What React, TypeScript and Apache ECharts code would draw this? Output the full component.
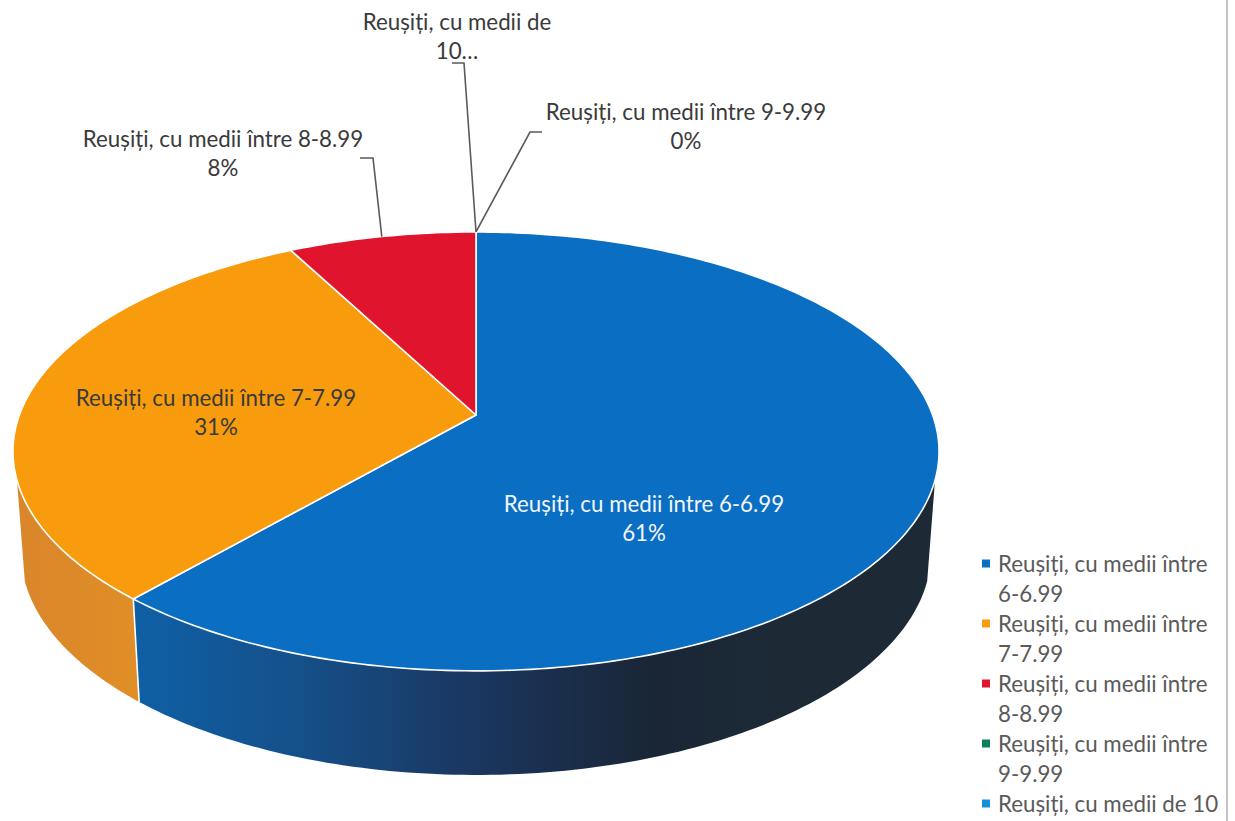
import React, { useEffect, useRef } from "react";
import * as echarts from "echarts";

const categories = [
  "Reușiți, cu medii între 6-6.99",
  "Reușiți, cu medii între 7-7.99",
  "Reușiți, cu medii între 8-8.99",
  "Reușiți, cu medii între 9-9.99",
  "Reușiți, cu medii de 10",
];
const values = [61.4, 30.9, 7.7, 0, 0];
const colors = ["#0a6ec3", "#f89c0e", "#e0142c", "#0f8055", "#1590d8"];
const legendTexts = [
  "Reușiți, cu medii între\n6-6.99",
  "Reușiți, cu medii între\n7-7.99",
  "Reușiți, cu medii între\n8-8.99",
  "Reușiți, cu medii între\n9-9.99",
  "Reușiți, cu medii de 10\n ",
];
const labelTexts = [
  "Reușiți, cu medii între 6-6.99\n61%",
  "Reușiți, cu medii între 7-7.99\n31%",
  "Reușiți, cu medii între 8-8.99\n8%",
  "Reușiți, cu medii între 9-9.99\n0%",
  "Reușiți, cu medii de\n10…",
];
const labelCenters = [[644, 518], [216, 412], [223, 153], [686, 126], [457, 36]];
const labelColors = ["#f2f6fb", "#3a3a3a", "#3a3a3a", "#3a3a3a", "#3a3a3a"];
const leaderElbows: (number[][] | null)[] = [
  null,
  null,
  [[373, 158], [360, 158]],
  [[530, 132], [542, 132]],
  [[464, 63], [452, 63]],
];

// Perspective model of the disc
const CX = 476;
const K = 0.166;
const TOP = { cy: 415, a: 456.6, b: 213.4 };
const BOTTOM = { cy: 515, a: 448.8, b: 216.8 };
const WALL_FROM = 0.297;
const WALL_TO = 0.703;
const FONT = '22.3px Lato, "Open Sans", sans-serif';

const total = values.reduce((s, v) => s + v, 0);
const project = (f: number, d: { cy: number; a: number; b: number }) => {
  const t = f * Math.PI * 2;
  const u = Math.sin(t);
  const v = -Math.cos(t);
  const w = 1 - K * v;
  return [CX + (d.a * u) / w, d.cy + (d.b * v) / w];
};
const arc = (f0: number, f1: number, d: any) => {
  const n = Math.max(2, Math.ceil((f1 - f0) * 360));
  const pts: number[][] = [];
  for (let i = 0; i <= n; i++) pts.push(project(f0 + ((f1 - f0) * i) / n, d));
  return pts;
};

const blueWall = {
  type: "linear", x: 138, y: 0, x2: 780, y2: 0, global: true,
  colorStops: [
    { offset: 0, color: "#0f5fa5" },
    { offset: 0.25, color: "#15508a" },
    { offset: 0.48, color: "#1a3a66" },
    { offset: 0.64, color: "#1a2f4e" },
    { offset: 0.8, color: "#1a2636" },
    { offset: 1, color: "#1d2a36" },
  ],
};
const orangeWall = {
  type: "linear", x: 15, y: 0, x2: 138, y2: 0, global: true,
  colorStops: [
    { offset: 0, color: "#d9862c" },
    { offset: 1, color: "#e08e26" },
  ],
};
const wallFills = [blueWall, orangeWall, null, null, null];

const makeRender = (idx: number) => () => {
  const start = values.slice(0, idx).reduce((s, v) => s + v, 0) / total;
  const end = start + values[idx] / total;
  const children: any[] = [];
  const whiteLine = { stroke: "#ffffff", lineWidth: 1.6, lineJoin: "round" };

  if (values[idx] > 0) {
    children.push({
      type: "polygon",
      z2: 2,
      shape: { points: [[CX, TOP.cy], ...arc(start, end, TOP)] },
      style: { fill: colors[idx], ...whiteLine },
    });
  }
  const wf = Math.max(start, WALL_FROM);
  const wt = Math.min(end, WALL_TO);
  if (wallFills[idx] && wt > wf) {
    children.push({
      type: "polygon",
      z2: 1,
      shape: { points: [...arc(wf, wt, TOP), ...arc(wf, wt, BOTTOM).reverse()] },
      style: { fill: wallFills[idx] },
    });
    const a = project(wt, TOP);
    const b = project(wt, BOTTOM);
    if (wt < WALL_TO) {
      children.push({
        type: "line",
        z2: 3,
        shape: { x1: a[0], y1: a[1], x2: b[0], y2: b[1] },
        style: { stroke: "#ffffff", lineWidth: 1.6 },
      });
    }
  }
  const elbows = leaderElbows[idx];
  if (elbows) {
    const anchor = project((start + end) / 2, TOP);
    children.push({
      type: "polyline",
      z2: 4,
      shape: { points: [anchor, ...elbows] },
      style: { stroke: "#5a5a5a", lineWidth: 1.6, fill: "none" },
    });
  }
  children.push({
    type: "text",
    z2: 5,
    style: {
      text: labelTexts[idx],
      x: labelCenters[idx][0],
      y: labelCenters[idx][1],
      fill: labelColors[idx],
      font: FONT,
      align: "center",
      verticalAlign: "middle",
      lineHeight: 29,
    },
  });
  return { type: "group", children };
};

const squareIcon = "path://M0 0H8V8H0ZM11 37L11 37";

export default function App() {
  const ref = useRef<HTMLDivElement>(null);
  useEffect(() => {
    const chart = echarts.init(ref.current!, undefined, { renderer: "svg" });
    chart.setOption({
      animation: false,
      backgroundColor: "#ffffff",
      color: colors,
      legend: {
        show: true,
        orient: "vertical",
        left: 982,
        top: 548,
        height: 320,
        padding: 0,
        itemGap: 0,
        itemWidth: 11,
        itemHeight: 37,
        icon: squareIcon,
        selectedMode: false,
        align: "left",
        data: categories,
        formatter: (n: string) => legendTexts[categories.indexOf(n)],
        textStyle: {
          color: "#5a5a5a",
          fontFamily: 'Lato, "Open Sans", sans-serif',
          fontSize: 22.3,
          lineHeight: 30,
        },
      },
      graphic: [
        {
          type: "line",
          shape: { x1: 1227, y1: 0, x2: 1227, y2: 821 },
          style: { stroke: "#b0b0b0", lineWidth: 1.5 },
        },
      ],
      series: categories.map((name, i) => ({
        type: "custom",
        name,
        coordinateSystem: "none",
        silent: true,
        itemStyle: { color: colors[i] },
        data: [[values[i]]],
        renderItem: makeRender(i),
      })),
    });
    return () => chart.dispose();
  }, []);
  return (
    <div
      ref={ref}
      style={{ position: "absolute", left: 0, top: 0, width: 1235, height: 821 }}
    />
  );
}
